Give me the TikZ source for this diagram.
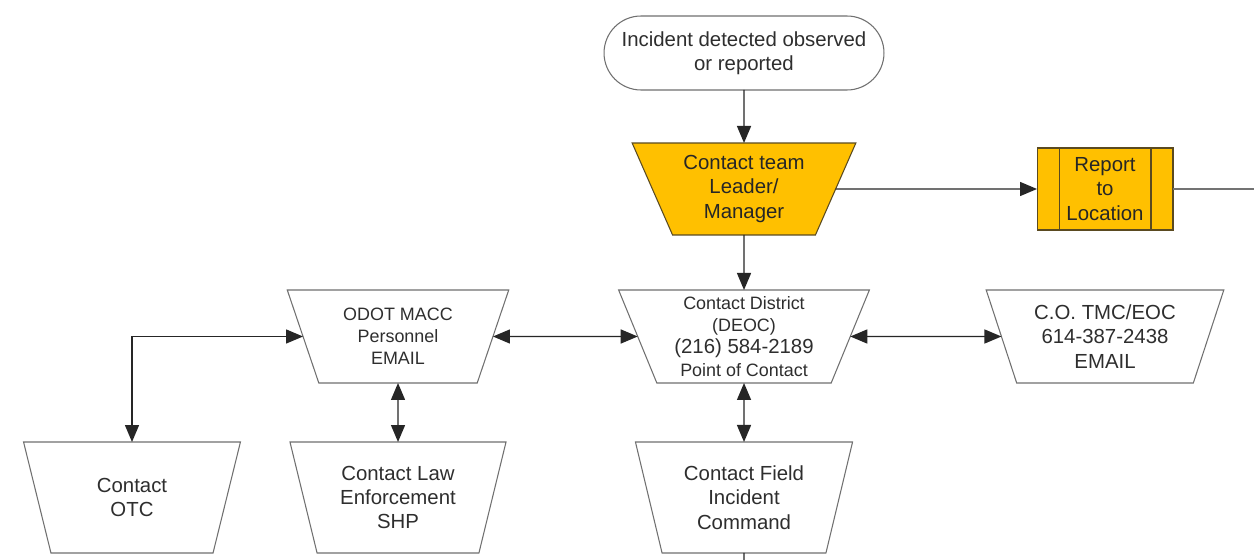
\documentclass[tikz,border=0pt]{standalone}
\usepackage{fontspec}
\setmainfont{Liberation Sans}
\usetikzlibrary{shapes.geometric,shapes.misc,arrows.meta,calc}
\definecolor{orng}{HTML}{FFC000}
\definecolor{edgegray}{HTML}{707070}
\definecolor{orngedge}{HTML}{5A4A20}
\definecolor{txt}{HTML}{2E2E2E}
\newcommand\myfontL{\fontsize{11.6}{13.9}\selectfont}
\newcommand\myfontS{\fontsize{10.2}{12.6}\selectfont}
\begin{document}
\begin{tikzpicture}[x=0.02cm,y=-0.02cm,
  base/.style={draw=edgegray, line width=0.6pt, text=txt, align=center, inner sep=0pt, outer sep=0pt, font=\myfontL},
  trap/.style={base, trapezium, trapezium stretches=true, shape border rotate=180},
  midtrap/.style={trap, minimum height=1.86cm, trapezium angle=69},
  lowtrap/.style={trap, minimum width=4.36cm, minimum height=2.22cm, trapezium angle=73},
  conn/.style={draw=black!85, line width=0.8pt},
  tip/.style={-{Triangle[length=0.34cm,width=0.28cm]}},
  bothtips/.style={{Triangle[length=0.34cm,width=0.28cm]}-{Triangle[length=0.34cm,width=0.28cm]}}]
\useasboundingbox[fill=white] (0,0) rectangle (1254,560);

% nodes
\node[base, rounded rectangle, minimum width=5.6cm, minimum height=1.48cm] (term) at (744,53)
  {Incident detected observed\\or reported};
\node[trap, fill=orng, draw=orngedge, text=black!85, minimum width=4.48cm, minimum height=1.84cm, trapezium angle=63] (team) at (744,189)
  {Contact team\\Leader/\\Manager};
\node[base, rectangle, fill=orng, draw=orngedge, text=black!85, minimum width=2.72cm, minimum height=1.64cm] (rep) at (1105,189)
  {Report\\to\\Location};
\draw[orngedge, line width=0.6pt] ($(rep.north west)+(22,0)$) -- ($(rep.south west)+(22,0)$);
\draw[orngedge, line width=0.6pt] ($(rep.north east)+(-22,0)$) -- ($(rep.south east)+(-22,0)$);

\node[midtrap, minimum width=4.46cm, font=\myfontS] (odot) at (398,336.5)
  {ODOT MACC\\Personnel\\EMAIL};
\node[midtrap, minimum width=5.02cm, font=\myfontS] (deoc) at (744,336.5)
  {Contact District\\(DEOC)\\{\myfontL (216) 584-2189}\\Point of Contact};
\node[midtrap, minimum width=4.76cm] (tmc) at (1105,336.5)
  {C.O. TMC/EOC\\614-387-2438\\EMAIL};

\node[lowtrap] (otc) at (132,497.5) {Contact\\OTC};
\node[lowtrap] (law) at (398,497.5) {Contact Law\\Enforcement\\SHP};
\node[lowtrap] (field) at (744,497.5) {Contact Field\\Incident\\Command};

\coordinate (repend) at (1254,189);
\coordinate (fieldend) at (744,560);

% connectors
\draw[conn, tip] (term) -- (team);
\draw[conn, tip] (team) -- (rep);
\draw[draw=black!55, line width=0.7pt] (rep) -- (repend);
\draw[conn, tip] (team) -- (deoc);
\draw[conn, bothtips] (odot) -- (deoc);
\draw[conn, bothtips] (deoc) -- (tmc);
\draw[conn, bothtips] (odot) -- (law);
\draw[conn, bothtips] (deoc) -- (field);
\draw[conn, bothtips] (odot) -| (otc);
\draw[conn] (field) -- (fieldend);
\end{tikzpicture}
\end{document}
